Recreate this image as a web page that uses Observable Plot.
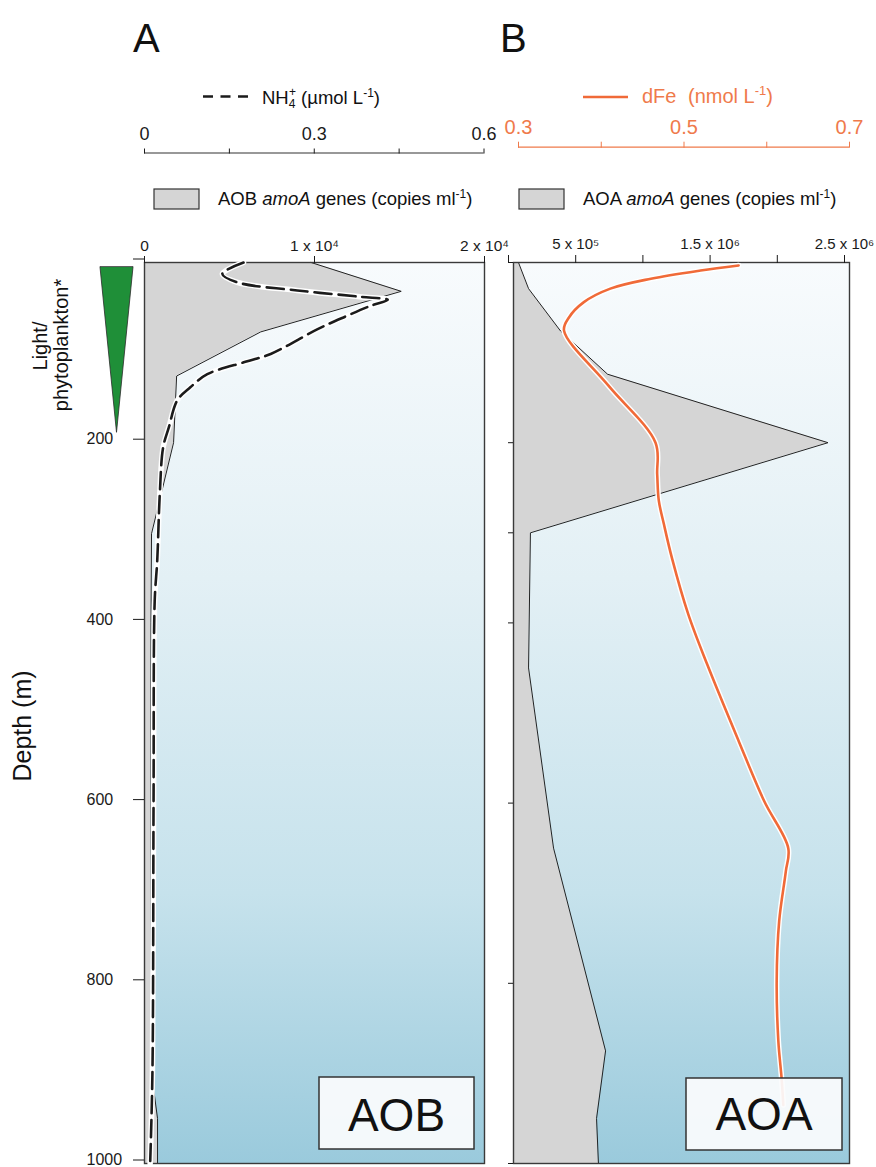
<!DOCTYPE html>
<html>
<head>
<meta charset="utf-8">
<script src="https://cdn.jsdelivr.net/npm/d3@7"></script>
<script src="https://cdn.jsdelivr.net/npm/@observablehq/plot@0.6"></script>
<style>
  body { margin: 0; background: #fff; }
  #wrap { position: relative; width: 876px; height: 1167px; overflow: hidden; background: #fff; }
  #wrap svg { position: absolute; left: 0; top: 0; }
</style>
</head>
<body>
<div id="wrap"></div>
<script>
const FONT = '"Liberation Sans", Arial, Helvetica, sans-serif';
const W = 876, H = 1167;

// ---------------- data ----------------
// Panel A: AOB amoA genes (copies ml-1) by depth (m)
const aobDepth  = [0, 32, 77, 126, 200, 301, 400, 500, 650, 900, 950, 1000];
const aobCopies = [9800, 15100, 6840, 1890, 1710, 413, 380, 380, 380, 413, 767, 767];

// Panel A: NH4+ (umol L-1) by depth (m)
const nh4Depth = [0, 12.6, 22, 31, 38, 41.5, 48, 60, 74, 101.5, 110, 124, 138.5, 153, 183, 205, 257, 331, 376, 600, 900, 1000];
const nh4Conc  = [0.175, 0.1375, 0.164, 0.27, 0.38, 0.43, 0.40, 0.355, 0.306, 0.223, 0.18, 0.111, 0.081, 0.058, 0.043, 0.033, 0.027, 0.0225, 0.018, 0.016, 0.014, 0.01];

// Panel B: AOA amoA genes (copies ml-1) by depth (m)
const aoaDepth  = [0, 29, 76, 124, 200, 300, 450, 650, 875, 950, 1000];
const aoaCopies = [37000, 112000, 350000, 700000, 2340000, 126000, 112000, 298000, 685000, 618000, 632000];

// Panel B: dFe (nmol L-1) by depth (m)
const feDepth = [3.3, 8.9, 18, 29, 44, 61, 75.6, 137, 200, 235, 264, 290, 329, 390, 446, 531, 598, 650, 676, 731, 798, 864, 906, 935];
const feConc  = [0.566, 0.520, 0.460, 0.411, 0.379, 0.361, 0.355, 0.409, 0.4656, 0.4676, 0.4695, 0.4756, 0.4857, 0.505, 0.528, 0.566, 0.597, 0.626, 0.623, 0.615, 0.612, 0.614, 0.618, 0.620];

// Light / phytoplankton wedge (relative level)
const lightDepth = [5.5, 189];
const lightLevel = [1, 0];

// tick values and labels
const aobTicks = [0, 1e4, 2e4];
const aobTickLabels = ["0", "1 x 10⁴", "2 x 10⁴"];
const aoaTicks = [0, 5e5, 1e6, 1.5e6, 2e6, 2.5e6];
const aoaTickLabels = ["", "5 x 10⁵", "", "1.5 x 10⁶", "", "2.5 x 10⁶"];
const nh4Ticks = [0, 0.15, 0.3, 0.45, 0.6];
const nh4TickLabels = ["0", "", "0.3", "", "0.6"];
const feTicks = [0.3, 0.4, 0.5, 0.6, 0.7];
const feTickLabels = ["0.3", "", "0.5", "", "0.7"];
const depthTicksA = [0, 200, 400, 600, 800, 1000];
const depthTicksB = [0, 200, 300, 400, 600, 800, 1000];

// ---------------- helpers ----------------
const rows = (ys, xs) => ys.map((y, i) => ({depth: y, v: xs[i]}));
const fmt = (ticks, labels) => { const m = new Map(ticks.map((t, i) => [t, labels[i]])); return d => m.get(d) ?? ""; };
const depthFmtA = d => d === 0 ? "" : String(d);

const aob = rows(aobDepth, aobCopies);
const nh4 = rows(nh4Depth, nh4Conc);
const aoa = rows(aoaDepth, aoaCopies);
const fe  = rows(feDepth, feConc);
const light = rows(lightDepth, lightLevel);

const ORANGE = "#f06a38";
const ORANGE_TXT = "#ef7a4b";
const GREY = "#d5d5d5";

function gradient(id) {
  return () => {
    const defs = d3.create("svg:defs");
    const g = defs.append("linearGradient").attr("id", id)
      .attr("x1", 0).attr("y1", 0).attr("x2", 0).attr("y2", 1);
    [[0, "#f8fbfd"], [0.35, "#e3f0f5"], [0.7, "#c6e2ec"], [1, "#9acadc"]]
      .forEach(([o, c]) => g.append("stop").attr("offset", o).attr("stop-color", c));
    return defs.node();
  };
}

const base = {
  width: W, height: H,
  style: {background: "transparent", fontFamily: FONT, color: "#1a1a1a", overflow: "visible"}
};

// frame geometry
const A = {left: 144, right: 484, top: 262, bottom: 1163};
const B = {left: 513, right: 849, top: 262, bottom: 1163};
const pxPerM = (A.bottom - A.top) / 1000;

// ---------------- Panel A base ----------------
const plotA = Plot.plot({
  ...base,
  marginLeft: A.left, marginRight: W - A.right, marginTop: A.top, marginBottom: H - A.bottom,
  x: {domain: [0, 2e4]},
  y: {domain: [0, 1000], reverse: true},
  marks: [
    gradient("bgA"),
    Plot.frame({fill: "url(#bgA)", stroke: null}),
    Plot.areaX(aob, {x: "v", y: "depth", fill: GREY}),
    Plot.lineX(aob, {x: "v", y: "depth", stroke: "#222", strokeWidth: 1}),
    Plot.frame({stroke: "#3a3a3a", strokeWidth: 1.4}),
    Plot.axisX({anchor: "top", ticks: aobTicks, tickFormat: fmt(aobTicks, aobTickLabels), tickSize: 7, tickPadding: 5, fontSize: 15.5, label: null}),
    Plot.axisY({anchor: "left", ticks: depthTicksA, tickFormat: depthFmtA, tickSize: 11, tickPadding: 47, textAnchor: "start", dy: -3.5, fontSize: 16, label: null})
  ]
});

// ---------------- Panel A overlay: NH4 ----------------
const nh4Top = 152.5;
const nh4YTop = -(A.top - nh4Top) / pxPerM;
const plotA2 = Plot.plot({
  ...base,
  marginLeft: A.left, marginRight: W - 483.5, marginTop: nh4Top, marginBottom: H - A.bottom,
  x: {domain: [0, 0.6]},
  y: {domain: [nh4YTop, 1000], reverse: true, axis: null},
  marks: [
    Plot.ruleY([nh4YTop], {x1: 0, x2: 0.6, stroke: "#333", strokeWidth: 1.2}),
    Plot.axisX({anchor: "top", ticks: nh4Ticks, tickFormat: fmt(nh4Ticks, nh4TickLabels), tickSize: 5, tickPadding: 8, fontSize: 18, label: null}),
    Plot.lineX(nh4, {x: "v", y: "depth", stroke: "white", strokeWidth: 5.5, curve: "catmull-rom"}),
    Plot.lineX(nh4, {x: "v", y: "depth", stroke: "#1b1b1b", strokeWidth: 2.6, strokeDasharray: "17,7", curve: "catmull-rom"})
  ]
});

// ---------------- Light wedge ----------------
const plotL = Plot.plot({
  ...base,
  marginLeft: 100, marginRight: W - 133, marginTop: A.top, marginBottom: H - A.bottom,
  x: {domain: [-1, 1], axis: null},
  y: {domain: [0, 1000], reverse: true, axis: null},
  marks: [
    Plot.areaX(light, {x1: d => -d.v, x2: d => d.v, y: "depth", fill: "#1f8f38", stroke: "#2a2a2a", strokeWidth: 0.8})
  ]
});

// ---------------- Panel B base ----------------
const plotB = Plot.plot({
  ...base,
  marginLeft: B.left, marginRight: W - B.right, marginTop: B.top, marginBottom: H - B.bottom,
  x: {domain: [0, 2.5e6]},
  y: {domain: [0, 1000], reverse: true},
  marks: [
    gradient("bgB"),
    Plot.frame({fill: "url(#bgB)", stroke: null}),
    Plot.areaX(aoa, {x: "v", y: "depth", fill: GREY}),
    Plot.lineX(aoa, {x: "v", y: "depth", stroke: "#222", strokeWidth: 1}),
    Plot.frame({stroke: "#3a3a3a", strokeWidth: 1.4}),
    Plot.axisX({anchor: "top", ticks: aoaTicks, tickFormat: fmt(aoaTicks, aoaTickLabels), tickSize: 8, tickPadding: 6, fontSize: 15, dx: -5, label: null}),
    Plot.axisY({anchor: "left", ticks: depthTicksB, tickFormat: () => "", tickSize: 5, label: null})
  ]
});

// ---------------- Panel B overlay: dFe ----------------
const feTop = 146.7;
const feYTop = -(B.top - feTop) / pxPerM;
const plotB2 = Plot.plot({
  ...base,
  marginLeft: 518, marginRight: W - 849, marginTop: feTop, marginBottom: H - B.bottom,
  x: {domain: [0.3, 0.7]},
  y: {domain: [feYTop, 1000], reverse: true, axis: null},
  marks: [
    Plot.ruleY([feYTop], {x1: 0.3, x2: 0.7, stroke: ORANGE_TXT, strokeWidth: 1.2}),
    Plot.axisX({anchor: "top", ticks: feTicks, tickFormat: fmt(feTicks, feTickLabels), tickSize: 6, tickPadding: 7, fontSize: 20, label: null, color: ORANGE_TXT}),
    Plot.lineX(fe, {x: "v", y: "depth", stroke: "white", strokeWidth: 5.5, curve: "catmull-rom"}),
    Plot.lineX(fe, {x: "v", y: "depth", stroke: ORANGE, strokeWidth: 2.6, curve: "catmull-rom"})
  ]
});

const wrap = document.getElementById("wrap");
[plotA, plotA2, plotL, plotB, plotB2].forEach(p => wrap.appendChild(p));

// ---------------- annotations (titles, legends, labels) ----------------
const ann = d3.create("svg").attr("width", W).attr("height", H)
  .style("font-family", FONT).style("overflow", "visible");

ann.append("text").attr("x", 133).attr("y", 52).attr("font-size", 40).attr("fill", "#111").text("A");
ann.append("text").attr("x", 500).attr("y", 52).attr("font-size", 40).attr("fill", "#111").text("B");

// NH4 legend
ann.append("line").attr("x1", 203).attr("x2", 248).attr("y1", 96.5).attr("y2", 96.5)
  .attr("stroke", "#1b1b1b").attr("stroke-width", 2.5).attr("stroke-dasharray", "10,7.5");
const tN = ann.append("text").attr("x", 262).attr("y", 104).attr("font-size", 18.5).attr("fill", "#111");
tN.append("tspan").text("NH");
tN.append("tspan").attr("font-size", 12).attr("dy", 4).text("4");
tN.append("tspan").attr("font-size", 12).attr("dx", -6.5).attr("dy", -12).text("+");
tN.append("tspan").attr("dy", 8).text(" (µmol L");
tN.append("tspan").attr("font-size", 12).attr("dy", -7).text("-1");
tN.append("tspan").attr("dy", 7).text(")");

// dFe legend
ann.append("line").attr("x1", 583).attr("x2", 628).attr("y1", 97).attr("y2", 97)
  .attr("stroke", ORANGE).attr("stroke-width", 2.5);
ann.append("text").attr("x", 642).attr("y", 103).attr("font-size", 20).attr("fill", ORANGE_TXT).text("dFe");
const tF = ann.append("text").attr("x", 688).attr("y", 103).attr("font-size", 20).attr("fill", ORANGE_TXT);
tF.append("tspan").text("(nmol L");
tF.append("tspan").attr("font-size", 13).attr("dy", -8).text("-1");
tF.append("tspan").attr("dy", 8).text(")");

// gene legends
function geneLegend(bx, tx, name) {
  ann.append("rect").attr("x", bx).attr("y", 189).attr("width", 45).attr("height", 20)
    .attr("fill", GREY).attr("stroke", "#333").attr("stroke-width", 1.2);
  const t = ann.append("text").attr("x", tx).attr("y", 205).attr("font-size", 18.5).attr("fill", "#111");
  t.append("tspan").text(name + " ");
  t.append("tspan").attr("font-style", "italic").text("amoA");
  t.append("tspan").text(" genes (copies ml");
  t.append("tspan").attr("font-size", 12).attr("dy", -7).text("-1");
  t.append("tspan").attr("dy", 7).text(")");
}
geneLegend(154, 218, "AOB");
geneLegend(519, 583, "AOA");

// rotated labels
const lp = ann.append("g").attr("font-size", 20).attr("fill", "#111").attr("text-anchor", "middle");
lp.append("text").attr("transform", "translate(47,346) rotate(-90)").text("Light/");
lp.append("text").attr("transform", "translate(68,345) rotate(-90)").text("phytoplankton*");
ann.append("text").attr("transform", "translate(31,726) rotate(-90)").attr("text-anchor", "middle")
  .attr("font-size", 25).attr("fill", "#111").text("Depth (m)");

// panel name boxes
function nameBox(x, y, w, h, label, baseline) {
  ann.append("rect").attr("x", x).attr("y", y).attr("width", w).attr("height", h)
    .attr("fill", "#fbfcfd").attr("fill-opacity", 0.93).attr("stroke", "#333").attr("stroke-width", 1.5);
  ann.append("text").attr("x", x + w / 2).attr("y", baseline).attr("text-anchor", "middle")
    .attr("font-size", 46).attr("fill", "#111").text(label);
}
nameBox(319, 1077, 155, 72, "AOB", 1131);
nameBox(686, 1078, 156, 72, "AOA", 1130);

wrap.appendChild(ann.node());
</script>
</body>
</html>
